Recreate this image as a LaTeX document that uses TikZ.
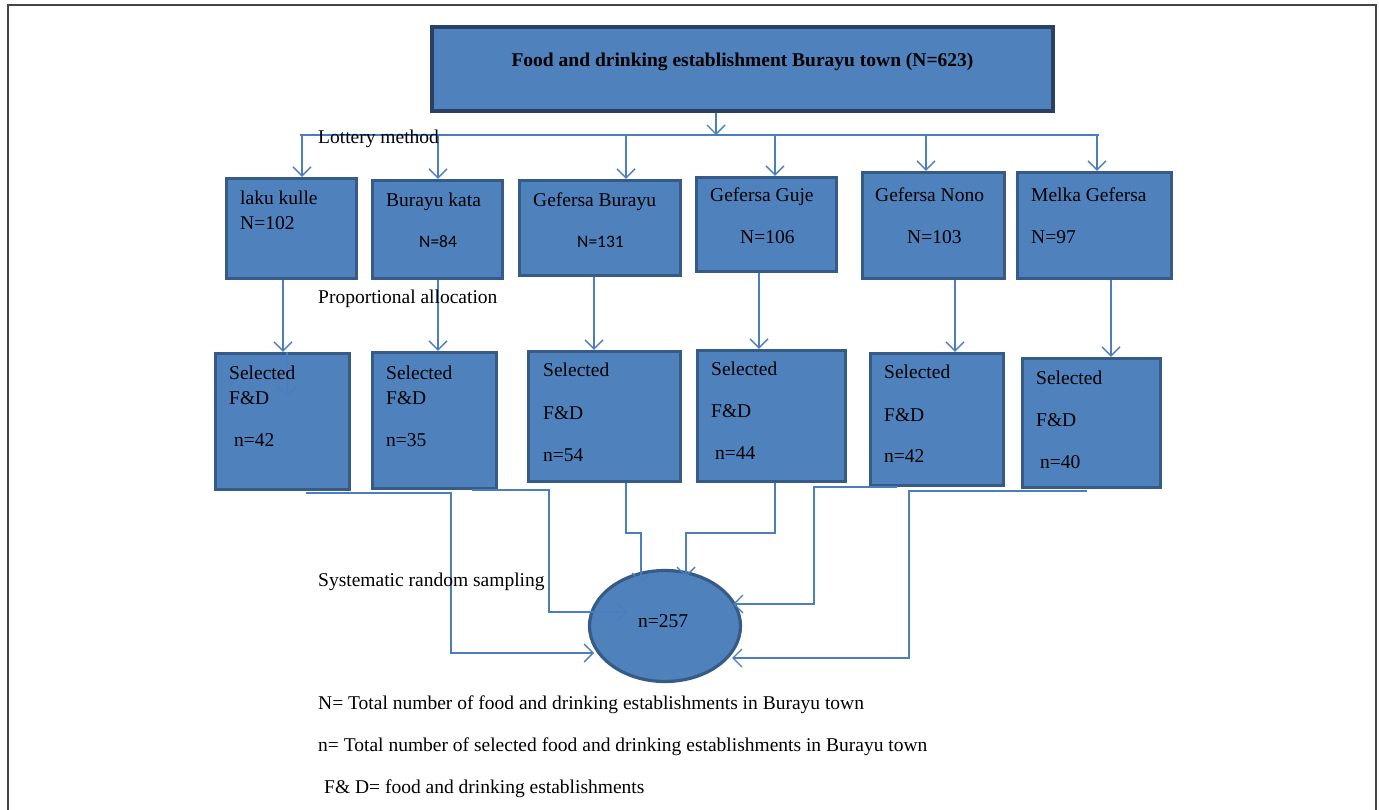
\documentclass[tikz,border=0pt]{standalone}
\usepackage{fontspec}
\setmainfont{Liberation Serif}
\newfontfamily\calib{Carlito}
\usetikzlibrary{arrows.meta,shapes.geometric}
\definecolor{boxfill}{HTML}{4F81BD}
\definecolor{boxedge}{HTML}{375B87}
\definecolor{topedge}{HTML}{2A4165}
\definecolor{linkc}{HTML}{4A7EBE}
\definecolor{framec}{HTML}{454545}
\begin{document}
\begin{tikzpicture}[x=1pt,y=-1pt,
  bx/.style={draw=boxedge, line width=3.2pt, fill=boxfill, rectangle, inner sep=0pt},
  lbl/.style={anchor=base west, inner sep=0pt, font=\fontsize{19.5}{23}\selectfont},
  sans/.style={anchor=base west, inner sep=0pt, font=\calib\fontsize{17.5}{21}\selectfont},
  link/.style={draw=linkc, line width=1.4pt},
  arr/.style={link, -{Straight Barb[length=9pt,width=18pt,line width=1.4pt]}},
]
\useasboundingbox (0,0) rectangle (1379,810);
\draw[framec, line width=2pt] (8,810) -- (8,5) -- (1376,5) -- (1376,810);

% top box
\node[bx, draw=topedge, line width=3.6pt, minimum width=621pt, minimum height=84pt] (top) at (742.5,69) {};
\node[anchor=base, inner sep=0pt, font=\fontsize{19.5}{23}\selectfont\bfseries] (title) at (742.5,67) {Food and drinking establishment Burayu town (N=623)};

% area boxes
\node[bx, minimum width=130pt, minimum height=100pt] (a1) at (291.5,228.5) {};
\node[bx, minimum width=130pt, minimum height=98pt] (a2) at (437.5,229.5) {};
\node[bx, minimum width=161pt, minimum height=95pt] (a3) at (600,228) {};
\node[bx, minimum width=140pt, minimum height=94pt] (a4) at (766.5,224.5) {};
\node[bx, minimum width=142pt, minimum height=106pt] (a5) at (933.5,225.5) {};
\node[bx, minimum width=154pt, minimum height=106pt] (a6) at (1094.5,225.5) {};

% selected boxes
\node[bx, minimum width=134pt, minimum height=136pt] (s1) at (282.5,421.5) {};
\node[bx, minimum width=124pt, minimum height=136pt] (s2) at (434.5,420.5) {};
\node[bx, minimum width=152pt, minimum height=130pt] (s3) at (604.5,416.5) {};
\node[bx, minimum width=148pt, minimum height=131pt] (s4) at (771.5,416) {};
\node[bx, minimum width=133pt, minimum height=132pt] (s5) at (937,419.5) {};
\node[bx, minimum width=138pt, minimum height=129pt] (s6) at (1091.5,423) {};

% result ellipse
\node[ellipse, draw=boxedge, line width=3.2pt, fill=boxfill, minimum width=151pt, minimum height=111pt, inner sep=0pt] (e) at (665,626) {};

% bus
\coordinate (busL) at (300,135);
\coordinate (busR) at (1099,135);
\draw[link] (busL) -- (busR);
\draw[arr] (top.south -| 716,0) -- (716,0 |- busL);
\draw[arr] (302,0 |- busL) -- (302,0 |- a1.north);
\draw[arr] (438,0 |- busL) -- (438,0 |- a2.north);
\draw[arr] (626,0 |- busL) -- (626,0 |- a3.north);
\draw[arr] (775,0 |- busL) -- (775,0 |- a4.north);
\draw[arr] (926,0 |- busL) -- (926,0 |- a5.north);
\draw[arr] (1097,0 |- busL) -- (1097,0 |- a6.north);

% area -> selected
\draw[arr] (283,0 |- a1.south) -- (283,0 |- s1.north);
\draw[arr] (287,0 |- s1.north) -- (287,397);
\draw[arr] (438,0 |- a2.south) -- (438,0 |- s2.north);
\draw[arr] (594,0 |- a3.south) -- (594,0 |- s3.north);
\draw[arr] (759,0 |- a4.south) -- (759,0 |- s4.north);
\draw[arr] (955,0 |- a5.south) -- (955,0 |- s5.north);
\draw[arr] (1111,0 |- a6.south) -- (1111,0 |- s6.north);

% selected -> result
\draw[arr] (306,493) -- (451,493) -- (451,653) -- ([xshift=-71pt,yshift=-27pt]e.center);
\draw[arr] (472,0 |- s2.south) -- (549,0 |- s2.south) -- (549,612) -- ([xshift=-38pt,yshift=14pt]e.center);
\draw[arr] (626,0 |- s3.south) -- (626,533) -- (641,533) -- ([xshift=-24pt,yshift=43pt]e.center);
\draw[arr] (775,0 |- s4.south) -- (775,533) -- (686,533) -- ([xshift=21pt,yshift=49pt]e.center);
\draw[arr] (897,487) -- (814,487) -- (814,604) -- ([xshift=68pt,yshift=22pt]e.center);
\draw[arr] (1087,491) -- (909,491) -- (909,658) -- ([xshift=67pt,yshift=-32pt]e.center);

% method labels
\node[lbl] (lot) at (318,144) {Lottery method};
\node[lbl] (prop) at (318,304) {Proportional allocation};
\node[lbl] (sys) at (318,586) {Systematic random sampling};

% area texts
\node[lbl] (t1a) at (240,205) {laku kulle};
\node[lbl] (t1b) at (240,230) {N=102};
\node[lbl] (t2a) at (386,207) {Burayu kata};
\node[sans] (t2b) at (419,248) {N=84};
\node[lbl] (t3a) at (533,207) {Gefersa Burayu};
\node[sans] (t3b) at (577,248) {N=131};
\node[lbl] (t4a) at (710,202) {Gefersa Guje};
\node[lbl] (t4b) at (740,244) {N=106};
\node[lbl] (t5a) at (875,202) {Gefersa Nono};
\node[lbl] (t5b) at (907,244) {N=103};
\node[lbl] (t6a) at (1031,202) {Melka Gefersa};
\node[lbl] (t6b) at (1031,244) {N=97};

% selected texts
\node[lbl] (u1a) at (229,379) {Selected};
\node[lbl] (u1b) at (229,404) {F\&D};
\node[lbl] (u1c) at (234,446) {n=42};
\node[lbl] (u2a) at (386,379) {Selected};
\node[lbl] (u2b) at (386,404) {F\&D};
\node[lbl] (u2c) at (386,446) {n=35};
\node[lbl] (u3a) at (543,377) {Selected};
\node[lbl] (u3b) at (543,419) {F\&D};
\node[lbl] (u3c) at (543,461) {n=54};
\node[lbl] (u4a) at (711,375) {Selected};
\node[lbl] (u4b) at (711,417) {F\&D};
\node[lbl] (u4c) at (715,459) {n=44};
\node[lbl] (u5a) at (884,378) {Selected};
\node[lbl] (u5b) at (884,421) {F\&D};
\node[lbl] (u5c) at (884,462) {n=42};
\node[lbl] (u6a) at (1036,384) {Selected};
\node[lbl] (u6b) at (1036,426) {F\&D};
\node[lbl] (u6c) at (1040,468) {n=40};

\node[anchor=base, inner sep=0pt, font=\fontsize{19.5}{23}\selectfont] (etxt) at (663,627) {n=257};

% legend
\node[lbl] (leg1) at (318,709) {N= Total number of food and drinking establishments in Burayu town};
\node[lbl] (leg2) at (318,751) {n= Total number of selected food and drinking establishments in Burayu town};
\node[lbl] (leg3) at (324,793) {F\& D= food and drinking establishments};
\end{tikzpicture}
\end{document}
